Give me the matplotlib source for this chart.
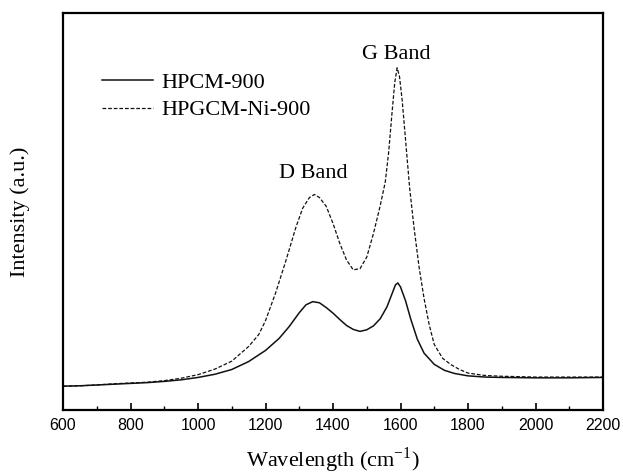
import matplotlib
matplotlib.use('Agg')
import matplotlib.pyplot as plt
from matplotlib.ticker import MultipleLocator

# Raman spectra (intensity in arbitrary units, 0-100 axis span)
x_hpcm = [600, 650, 700, 750, 800, 850, 900, 950, 1000, 1050, 1100, 1150, 1200, 1240,
          1270, 1300, 1320, 1340, 1360, 1380, 1400, 1420, 1440, 1460, 1480, 1500, 1520,
          1540, 1560, 1575, 1585, 1592, 1600, 1615, 1630, 1650, 1670, 1700, 1730, 1760,
          1800, 1850, 1900, 2000, 2100, 2200]
y_hpcm = [6.0, 6.1, 6.3, 6.5, 6.7, 6.9, 7.2, 7.6, 8.2, 9.0, 10.2, 12.2, 15.0, 18.0,
          21.0, 24.5, 26.5, 27.3, 27.0, 25.8, 24.4, 22.8, 21.3, 20.3, 19.8, 20.2, 21.2,
          23.0, 26.0, 29.3, 31.5, 32.0, 31.0, 27.5, 23.0, 17.8, 14.3, 11.5, 10.0, 9.2,
          8.6, 8.3, 8.2, 8.1, 8.1, 8.2]

x_ni = [600, 650, 700, 750, 800, 850, 900, 950, 1000, 1050, 1100, 1150, 1180, 1200,
        1230, 1260, 1290, 1310, 1330, 1345, 1360, 1380, 1400, 1420, 1440, 1460, 1480,
        1500, 1520, 1540, 1555, 1565, 1575, 1583, 1590, 1597, 1605, 1615, 1627, 1640,
        1655, 1670, 1685, 1700, 1725, 1750, 1775, 1800, 1850, 1900, 2000, 2100, 2200]
y_ni = [6.0, 6.1, 6.3, 6.6, 6.8, 7.0, 7.4, 8.0, 8.9, 10.3, 12.3, 16.0, 19.0, 22.5,
        29.5, 37.5, 46.0, 50.8, 53.5, 54.3, 53.5, 51.3, 47.0, 42.0, 37.8, 35.3, 35.6,
        38.5, 44.5, 51.5, 57.5, 65.0, 75.0, 82.5, 86.2, 84.0, 78.0, 68.0, 56.0, 46.0,
        36.0, 28.0, 21.5, 16.5, 13.0, 11.4, 10.2, 9.3, 8.7, 8.5, 8.3, 8.3, 8.3]

serif = 'Liberation Serif'
sans = 'Liberation Sans'

fig = plt.figure(figsize=(6.23, 4.74), dpi=100)
ax = fig.add_axes([63 / 623, 64 / 474, 540 / 623, 397 / 474])

ax.plot(x_hpcm, y_hpcm, color='#111111', lw=1.1, label='HPCM-900')
ax.plot(x_ni, y_ni, color='#111111', lw=0.9, ls=(0, (3, 1.5)), label='HPGCM-Ni-900')

ax.set_xlim(600, 2200)
ax.set_ylim(0, 100)
ax.xaxis.set_major_locator(MultipleLocator(200))
ax.xaxis.set_minor_locator(MultipleLocator(100))
ax.tick_params(axis='x', which='major', direction='in', length=5, width=1.2,
               top=False, labelsize=11.5, pad=6)
ax.tick_params(axis='x', which='minor', direction='in', length=3, width=1.0, top=False)
ax.set_yticks([])
for lab in ax.get_xticklabels():
    lab.set_fontfamily(sans)
for sp in ax.spines.values():
    sp.set_linewidth(1.6)

ax.set_xlabel('Wavelength (cm$^{\\mathregular{-1}}$)', fontfamily=serif, fontsize=16, labelpad=9)
ax.set_ylabel('Intensity (a.u.)', fontfamily=serif, fontsize=16, labelpad=24)

ax.text(1588, 89.5, 'G Band', fontfamily=serif, fontsize=16, ha='center', va='center')
ax.text(1341, 59.5, 'D Band', fontfamily=serif, fontsize=16, ha='center', va='center')

leg = ax.legend(loc='upper left', bbox_to_anchor=(0.055, 0.872), frameon=False,
                prop={'family': serif, 'size': 16}, handlelength=2.3,
                handletextpad=0.4, labelspacing=0.3, borderaxespad=0)

fig.savefig('out.png', dpi=100)
